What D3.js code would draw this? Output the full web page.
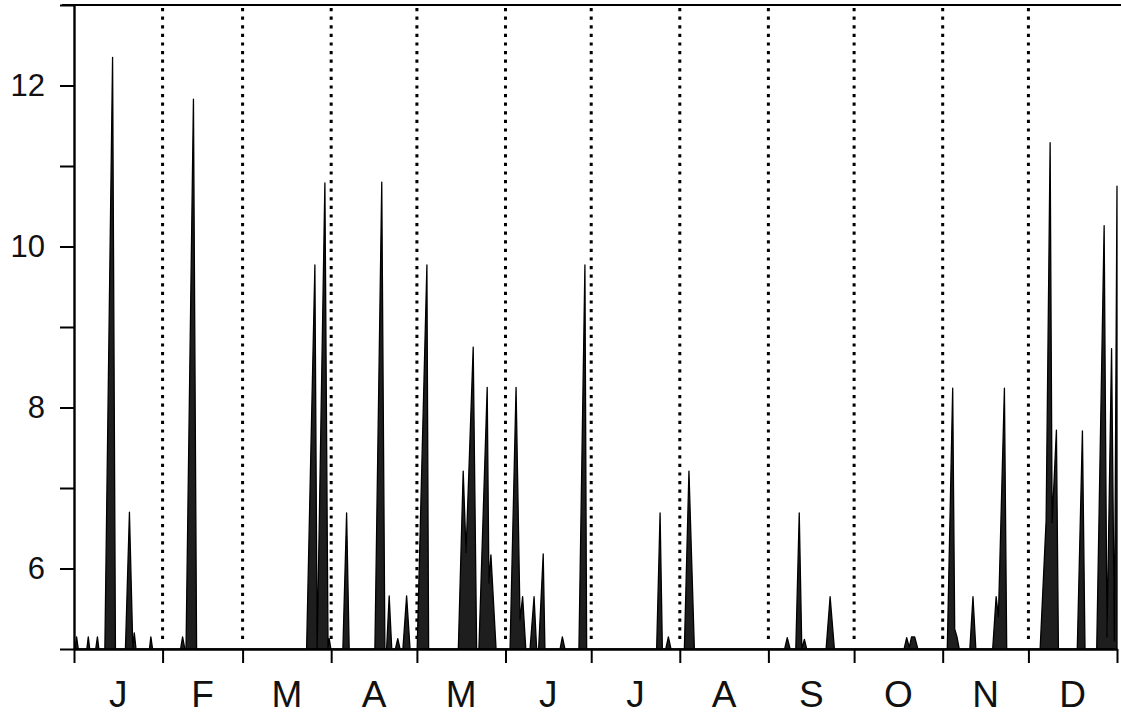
<!DOCTYPE html>
<html>
<head>
<meta charset="utf-8">
<script src="https://cdn.jsdelivr.net/npm/d3@7"></script>
<style>
  body { margin: 0; background: #fff; }
  text { font-family: "Liberation Sans", Arial, sans-serif; fill: #111; }
</style>
</head>
<body>
<div id="chart"></div>
<script>
// day of year (0 = 1 Jan) and level, feet of each spike included
const dayOfYear = [
  0, 0.4, 0.9, 1.5, 4.5, 5.0, 5.5, 7.6, 8.2, 8.7,
  10.8, 13.5, 14.5, 18.0, 19.4, 20.6, 21.1, 21.7, 26.4, 26.9, 27.5,
  37.3, 38.0, 38.8, 39.2, 41.8, 42.9,
  81.4, 84.3, 85.1, 87.8, 88.9, 89.3, 89.9,
  94.1, 95.4, 96.3, 105.3, 107.7, 108.8, 109.4, 110.3, 111.2,
  112.5, 113.3, 114.1, 115.1, 116.4, 117.6,
  120.1, 123.5, 124.1,
  134.5, 136.2, 137.2, 139.7, 140.9, 141.7, 144.6, 145.2, 145.9, 147.7,
  152.6, 154.7, 156.1, 157.0, 158.1, 159.6, 161.0, 161.9, 162.6, 164.2, 164.8,
  170.1, 170.9, 171.8, 176.7, 178.8, 179.4,
  203.9, 205.1, 205.9, 207.1, 208.0, 208.9,
  213.6, 215.2, 217.1,
  248.7, 249.6, 250.6, 252.6, 253.8, 254.7, 255.6, 256.4,
  263.2, 264.6, 266.1,
  290.5, 291.4, 292.3, 293.1, 294.2, 295.3,
  305.6, 307.5, 308.2, 309.0, 309.8, 313.5, 314.6, 315.6,
  321.5, 322.7, 323.5, 325.6, 326.4,
  338.1, 340.2, 341.6, 342.3, 343.8, 344.5,
  351.1, 352.9, 353.8,
  357.9, 360.5, 361.5, 363.1, 364.1, 365
];
const level = [
  5, 5, 5.15, 5, 5, 5.15, 5, 5, 5.15, 5,
  5, 12.35, 5, 5, 6.7, 5, 5.2, 5, 5, 5.15, 5,
  5, 5.15, 5, 5, 11.83, 5,
  5, 9.77, 5, 10.79, 5, 5.13, 5,
  5, 6.69, 5, 5, 10.8, 5, 5, 5.66, 5,
  5, 5.13, 5, 5, 5.66, 5,
  5, 9.77, 5,
  5, 7.21, 6.2, 8.75, 5, 5, 8.25, 5.82, 6.17, 5,
  5, 8.25, 5.36, 5.65, 5, 5, 5.65, 5, 5, 6.18, 5,
  5, 5.15, 5, 5, 9.77, 5,
  5, 6.69, 5, 5, 5.15, 5,
  5, 7.21, 5,
  5, 5.14, 5, 5, 6.69, 5, 5.12, 5,
  5, 5.65, 5,
  5, 5.14, 5.02, 5.15, 5.15, 5,
  5, 8.24, 5.25, 5.15, 5, 5, 5.65, 5,
  5, 5.65, 5.4, 8.24, 5,
  5, 6.6, 11.29, 6.57, 7.72, 5,
  5, 7.71, 5,
  5, 10.26, 5.15, 8.73, 5.1, 10.75
];
const monthLabels = ["J", "F", "M", "A", "M", "J", "J", "A", "S", "O", "N", "D"];
const yTicks = [5, 6, 7, 8, 9, 10, 11, 12, 13];
const yLabels = [6, 8, 10, 12];

const width = 1121, height = 715;
const margin = {top: 5, right: 4, bottom: 66, left: 74};
const plotW = width - margin.left - margin.right;
const plotH = height - margin.top - margin.bottom;

const yearStart = new Date(Date.UTC(2001, 0, 1));
const yearEnd = new Date(Date.UTC(2002, 0, 1));
const toDate = d => new Date(yearStart.getTime() + d * 864e5);
const months = d3.utcMonth.range(yearStart, yearEnd);
const monthEdges = months.concat([yearEnd]);

const x = d3.scaleUtc().domain([yearStart, yearEnd]).range([0, plotW]);
const y = d3.scaleLinear().domain([5, 13]).range([plotH, 0]);

const data = dayOfYear.map((d, i) => ({date: toDate(d), v: level[i]}));

const svg = d3.select("#chart").append("svg")
    .attr("width", width)
    .attr("height", height);

// top frame line
svg.append("line")
    .attr("x1", margin.left - 12).attr("x2", width)
    .attr("y1", margin.top).attr("y2", margin.top)
    .style("stroke", "#000").style("stroke-width", "2px");

const g = svg.append("g")
    .attr("transform", "translate(" + margin.left + "," + margin.top + ")");

// dotted month separators
g.selectAll(".sep")
    .data(months.slice(1))
  .enter().append("line")
    .attr("class", "sep")
    .attr("x1", d => x(d)).attr("x2", d => x(d))
    .attr("y1", 3).attr("y2", plotH - 8)
    .style("stroke", "#000")
    .style("stroke-width", "3px")
    .style("stroke-dasharray", "3.2,5.4");

const area = d3.area()
    .x(d => x(d.date))
    .y0(y(5))
    .y1(d => y(d.v));

g.append("path")
    .datum(data)
    .attr("d", area)
    .style("fill", "#1e1e1e")
    .style("stroke", "#000")
    .style("stroke-width", "1.3px")
    .style("stroke-linejoin", "round");

const yAxis = g.append("g")
    .call(d3.axisLeft(y).tickValues(yTicks).tickSize(14).tickSizeOuter(0).tickPadding(15)
      .tickFormat(d => yLabels.includes(d) ? d : ""));
yAxis.selectAll("text").style("font-size", "31px");

const xAxis = g.append("g")
    .attr("transform", "translate(0," + plotH + ")")
    .call(d3.axisBottom(x).tickValues(monthEdges).tickSize(14).tickSizeOuter(0).tickFormat(""));

svg.selectAll(".domain").style("stroke", "#000").style("stroke-width", "2.4px");
svg.selectAll(".tick line").style("stroke", "#000").style("stroke-width", "2px");

// month letters centred in each month
g.selectAll(".month")
    .data(months)
  .enter().append("text")
    .attr("class", "month")
    .attr("x", (d, i) => x(new Date((d.getTime() + monthEdges[i + 1].getTime()) / 2)))
    .attr("y", plotH + 58)
    .attr("text-anchor", "middle")
    .style("font-size", "37px")
    .text((d, i) => monthLabels[i]);
</script>
</body>
</html>
